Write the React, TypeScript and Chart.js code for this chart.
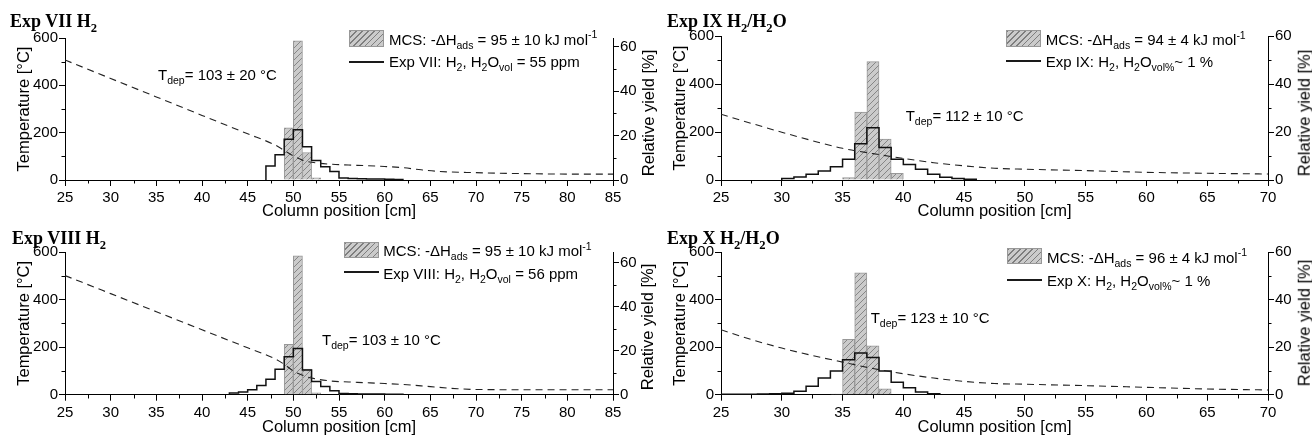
import React, { useEffect, useRef } from "react";
import { Chart, registerables } from "chart.js";

Chart.register(...registerables);

const SANS = "'Liberation Sans', Arial, Helvetica, sans-serif";
const SERIF = "'Liberation Serif', 'Times New Roman', serif";

// ===== Exp VII H2 (top left) =====
const mcsVIIEdges = [49, 50, 51, 52];
const mcsVIIYield = [23.5, 62.7, 12.4, 1.0];
const expVIIStart = 47;
const expVIIYield = [6.3, 11.4, 18.4, 22.6, 15.0, 8.8, 6.0, 3.8, 0.9, 0.7, 0.6, 0.5, 0.4, 0.3, 0.2];
const tempVIIPos = [25, 30, 35, 40, 45, 48, 49, 50, 51, 52, 54, 57, 60, 62, 64, 66, 70, 75, 80, 85];
const tempVII = [507, 429, 351, 273, 195, 148, 125, 102, 84, 75, 67, 62, 57, 52, 43, 36, 31, 27, 25, 25];

// ===== Exp IX H2/H2O (top right) =====
const mcsIXEdges = [35, 36, 37, 38, 39];
const mcsIXYield = [1.0, 28.3, 49.3, 17.1, 2.8];
const expIXStart = 30;
const expIXYield = [0.6, 1.2, 2.4, 3.8, 5.5, 8.6, 15.1, 21.8, 13.5, 8.6, 6.5, 4.5, 2.4, 1.1, 0.6, 0.3];
const tempIXPos = [25, 27.5, 30, 32.5, 35, 37.5, 40, 42.5, 45, 47.5, 50, 55, 60, 65, 70];
const tempIX = [274, 236, 199, 164, 132, 110, 90, 72, 59, 49, 45, 39, 32, 28, 25];

// ===== Exp VIII H2 (bottom left) =====
const mcsVIIIEdges = [49, 50, 51, 52];
const mcsVIIIYield = [23.0, 63.2, 11.7, 0.8];
const expVIIIStart = 43;
const expVIIIYield = [0.8, 1.2, 2.3, 4.2, 7.0, 11.6, 17.3, 21.0, 11.3, 6.0, 3.7, 1.8, 0.6, 0.4, 0.3, 0.3, 0.3, 0.2, 0.2];
const tempVIIIPos = [25, 30, 35, 40, 45, 48, 49, 50, 51, 52, 54, 57, 60, 62, 65, 68, 70, 75, 80, 85];
const tempVIII = [501, 425, 349, 273, 197, 151, 128, 100, 82, 70, 58, 52, 47, 43, 34, 25, 22, 21, 21, 21];

// ===== Exp X H2/H2O (bottom right) =====
const mcsXEdges = [34, 35, 36, 37, 38];
const mcsXYield = [0.3, 23.3, 51.2, 20.6, 2.5];
const expXStart = 25;
const expXYield = [0.2, 0.2, 0.2, 0.3, 0.4, 0.6, 1.5, 3.6, 7.0, 10.0, 14.7, 17.5, 15.6, 10.0, 5.2, 2.9, 1.1, 0.4];
const tempXPos = [25, 27.5, 30, 32.5, 35, 37.5, 40, 42.5, 45, 47.5, 50, 55, 60, 65, 70];
const tempX = [273, 232, 196, 165, 137, 110, 88, 70, 56, 47, 44, 38, 31, 24, 20];

// axis ticks
const xTickStep = 5;
const xMinorStep = 2.5;
const tempTickStep = 200;
const tempMinorStep = 100;
const yieldTickStep = 20;
const yieldMinorStep = 10;

const HATCH_BG = "#cbcbcb";
const HATCH_FG = "#7e7e7e";

function makeHatch(): CanvasPattern {
  const c = document.createElement("canvas");
  c.width = 6;
  c.height = 6;
  const g = c.getContext("2d")!;
  g.fillStyle = HATCH_BG;
  g.fillRect(0, 0, 6, 6);
  g.strokeStyle = HATCH_FG;
  g.lineWidth = 0.9;
  g.beginPath();
  g.moveTo(0, 6);
  g.lineTo(6, 0);
  g.moveTo(-3, 3);
  g.lineTo(3, -3);
  g.moveTo(3, 9);
  g.lineTo(9, 3);
  g.stroke();
  return g.createPattern(c, "repeat")!;
}

const minorTicksPlugin = {
  id: "minorTicks",
  afterDraw(chart: any, _args: any, opts: any) {
    const specs = (opts && opts.specs) || [];
    const ctx = chart.ctx;
    const ca = chart.chartArea;
    ctx.save();
    ctx.strokeStyle = "#000";
    ctx.lineWidth = 1;
    ctx.beginPath();
    for (const s of specs) {
      const sc = chart.scales[s.id];
      if (!sc) continue;
      for (let v = sc.min; v <= sc.max + 1e-9; v += s.step) {
        const r = v / s.major;
        if (Math.abs(r - Math.round(r)) < 1e-6) continue;
        const p = Math.round(sc.getPixelForValue(v)) + 0.5;
        if (s.id === "x") {
          const y = Math.round(ca.bottom);
          ctx.moveTo(p, y);
          ctx.lineTo(p, y + 3.5);
        } else if (s.id === "y") {
          const x = Math.round(ca.left);
          ctx.moveTo(x, p);
          ctx.lineTo(x - 3.5, p);
        } else {
          const x = Math.round(ca.right);
          ctx.moveTo(x, p);
          ctx.lineTo(x + 3.5, p);
        }
      }
    }
    ctx.stroke();
    ctx.restore();
  },
};

type Lbl = React.ReactNode;

interface PanelCfg {
  left: number;
  top: number;
  width: number;
  height: number;
  plotLeft: number;
  plotRight: number;
  plotTop: number;
  plotBottom: number;
  xMax: number;
  y2Max: number;
  mcsEdges: number[];
  mcsYield: number[];
  expStart: number;
  expYield: number[];
  tempPos: number[];
  temp: number[];
  title: Lbl;
  titlePos: [number, number];
  swatch: [number, number, number, number];
  leg1: Lbl;
  leg1Pos: [number, number];
  lineY: number;
  leg2: Lbl;
  leg2Pos: [number, number];
  tdep: Lbl;
  tdepPos: [number, number];
  rightTitle: [number, number];
}

const Sub = ({ children }: { children: React.ReactNode }) => (
  <span style={{ fontSize: "0.7em", position: "relative", top: "0.38em" }}>{children}</span>
);
const Sup = ({ children }: { children: React.ReactNode }) => (
  <span style={{ fontSize: "0.7em", position: "relative", top: "-0.62em" }}>{children}</span>
);

function Txt({ x, base, size = 15, bold = false, serif = false, children }: any) {
  const k = serif ? 0.8375 : 0.8465;
  return (
    <div
      style={{
        position: "absolute",
        left: x,
        top: base - k * size,
        fontSize: size,
        lineHeight: `${size}px`,
        fontFamily: serif ? SERIF : SANS,
        fontWeight: bold ? "bold" : "normal",
        whiteSpace: "nowrap",
        color: "#000",
      }}
    >
      {children}
    </div>
  );
}

function Panel({ cfg }: { cfg: PanelCfg }) {
  const ref = useRef<HTMLCanvasElement>(null);
  useEffect(() => {
    const hatch = makeHatch();
    const bars = cfg.mcsEdges.map((e, i) => ({ x: e + 0.5, y: cfg.mcsYield[i] }));
    const n = cfg.expYield.length;
    const steps = [
      { x: cfg.expStart, y: 0 },
      ...cfg.expYield.map((v, i) => ({ x: cfg.expStart + i, y: v })),
      { x: cfg.expStart + n, y: 0 },
    ];
    const temps = cfg.tempPos.map((p, i) => ({ x: p, y: cfg.temp[i] }));
    const axisTitleFont = { family: SANS, size: 16.5, lineHeight: 1.2 };
    const tickFont = { family: SANS, size: 15, lineHeight: 1.2 };
    const chart = new Chart(ref.current!, {
      type: "line",
      data: {
        datasets: [
          {
            type: "bar",
            label: "MCS",
            data: bars,
            xAxisID: "x",
            yAxisID: "y2",
            backgroundColor: hatch,
            borderColor: "#989898",
            borderWidth: 1,
            barPercentage: 1,
            categoryPercentage: 1,
            order: 3,
          } as any,
          {
            type: "line",
            label: "Exp",
            data: steps,
            xAxisID: "x",
            yAxisID: "y2",
            stepped: true,
            borderColor: "#111",
            borderWidth: 1.5,
            pointRadius: 0,
            fill: false,
            order: 2,
          } as any,
          {
            type: "line",
            label: "Temperature",
            data: temps,
            xAxisID: "x",
            yAxisID: "y",
            borderColor: "#222",
            borderWidth: 1.1,
            borderDash: [7, 5],
            pointRadius: 0,
            cubicInterpolationMode: "monotone",
            fill: false,
            order: 1,
          } as any,
        ],
      },
      options: {
        responsive: false,
        maintainAspectRatio: false,
        animation: false,
        devicePixelRatio: 1,
        layout: { padding: { top: cfg.plotTop, left: 0, right: 0, bottom: 0 } },
        plugins: {
          legend: { display: false },
          tooltip: { enabled: false },
          minorTicks: {
            specs: [
              { id: "x", step: xMinorStep, major: xTickStep },
              { id: "y", step: tempMinorStep, major: tempTickStep },
              { id: "y2", step: yieldMinorStep, major: yieldTickStep },
            ],
          },
        } as any,
        scales: {
          x: {
            type: "linear",
            position: "bottom",
            min: 25,
            max: cfg.xMax,
            offset: false,
            ticks: {
              stepSize: xTickStep,
              autoSkip: false,
              maxRotation: 0,
              padding: 3,
              color: "#000",
              font: tickFont,
              includeBounds: false,
            },
            grid: { drawOnChartArea: false, drawTicks: true, tickLength: 6, color: "#000", offset: false },
            border: { display: true, color: "#000", width: 1 },
            title: {
              display: true,
              text: "Column position [cm]",
              color: "#000",
              font: axisTitleFont,
              padding: { top: 0, bottom: 0.7 },
            },
            afterFit: (s: any) => {
              s.height = cfg.height - cfg.plotBottom;
            },
          },
          y: {
            type: "linear",
            position: "left",
            min: 0,
            max: 600,
            ticks: { stepSize: tempTickStep, padding: 1, color: "#000", font: tickFont, includeBounds: false },
            grid: { drawOnChartArea: false, drawTicks: true, tickLength: 6, color: "#000" },
            border: { display: true, color: "#000", width: 1 },
            title: {
              display: true,
              text: "Temperature [°C]",
              color: "#000",
              font: axisTitleFont,
              padding: { top: 15, bottom: 0 },
            },
            afterFit: (s: any) => {
              s.width = cfg.plotLeft;
            },
          },
          y2: {
            type: "linear",
            position: "right",
            min: 0,
            max: cfg.y2Max,
            ticks: { stepSize: yieldTickStep, padding: 1, color: "#000", font: tickFont, includeBounds: false },
            grid: { drawOnChartArea: false, drawTicks: true, tickLength: 6, color: "#000" },
            border: { display: true, color: "#000", width: 1 },
            title: { display: false },
            afterFit: (s: any) => {
              s.width = cfg.width - cfg.plotRight;
            },
          },
        } as any,
      },
      plugins: [minorTicksPlugin as any],
    });
    return () => chart.destroy();
  }, []);

  const [sx, sy, sw, sh] = cfg.swatch;
  return (
    <div
      style={{
        position: "absolute",
        left: cfg.left,
        top: cfg.top,
        width: cfg.width,
        height: cfg.height,
      }}
    >
      <canvas
        ref={ref}
        width={cfg.width}
        height={cfg.height}
        style={{ position: "absolute", left: 0, top: 0, width: cfg.width, height: cfg.height }}
      />
      <Txt x={cfg.titlePos[0]} base={cfg.titlePos[1]} size={18} bold serif>
        {cfg.title}
      </Txt>
      <div
        style={{
          position: "absolute",
          left: sx,
          top: sy,
          width: sw,
          height: sh,
          boxSizing: "border-box",
          border: "1px solid #989898",
          background: `repeating-linear-gradient(135deg, ${HATCH_FG} 0px, ${HATCH_FG} 0.9px, ${HATCH_BG} 0.9px, ${HATCH_BG} 4.2px)`,
        }}
      />
      <Txt x={cfg.leg1Pos[0]} base={cfg.leg1Pos[1]}>
        {cfg.leg1}
      </Txt>
      <div
        style={{
          position: "absolute",
          left: sx,
          top: Math.round(cfg.lineY) - 1,
          width: sw,
          height: 1.6,
          background: "#1a1a1a",
        }}
      />
      <Txt x={cfg.leg2Pos[0]} base={cfg.leg2Pos[1]}>
        {cfg.leg2}
      </Txt>
      <Txt x={cfg.tdepPos[0]} base={cfg.tdepPos[1]}>
        {cfg.tdep}
      </Txt>
      <div
        style={{
          position: "absolute",
          left: cfg.rightTitle[0],
          top: cfg.rightTitle[1],
          transform: "translate(-50%, -50%) rotate(-90deg)",
          fontFamily: SANS,
          fontSize: 16.5,
          lineHeight: "16.5px",
          whiteSpace: "nowrap",
          color: "#000",
        }}
      >
        Relative yield [%]
      </div>
    </div>
  );
}

const mcsLabel = (v: string) => (
  <>
    MCS: -ΔH<Sub>ads</Sub> = {v} kJ mol<Sup>-1</Sup>
  </>
);

const panels: PanelCfg[] = [
  {
    left: 0,
    top: 0,
    width: 656,
    height: 222,
    plotLeft: 65,
    plotRight: 613,
    plotTop: 38,
    plotBottom: 180,
    xMax: 85,
    y2Max: 64,
    mcsEdges: mcsVIIEdges,
    mcsYield: mcsVIIYield,
    expStart: expVIIStart,
    expYield: expVIIYield,
    tempPos: tempVIIPos,
    temp: tempVII,
    title: (
      <>
        Exp VII H<Sub>2</Sub>
      </>
    ),
    titlePos: [10, 27],
    swatch: [349, 30, 35, 17],
    leg1: mcsLabel("95 ± 10"),
    leg1Pos: [389, 44.5],
    lineY: 61.7,
    leg2: (
      <>
        Exp VII: H<Sub>2</Sub>, H<Sub>2</Sub>O<Sub>vol</Sub> = 55 ppm
      </>
    ),
    leg2Pos: [389, 66.7],
    tdep: (
      <>
        T<Sub>dep</Sub>= 103 ± 20 °C
      </>
    ),
    tdepPos: [158, 80],
    rightTitle: [647.5, 113],
  },
  {
    left: 656,
    top: 0,
    width: 656,
    height: 222,
    plotLeft: 65,
    plotRight: 612,
    plotTop: 36,
    plotBottom: 180,
    xMax: 70,
    y2Max: 60,
    mcsEdges: mcsIXEdges,
    mcsYield: mcsIXYield,
    expStart: expIXStart,
    expYield: expIXYield,
    tempPos: tempIXPos,
    temp: tempIX,
    title: (
      <>
        Exp IX H<Sub>2</Sub>/H<Sub>2</Sub>O
      </>
    ),
    titlePos: [11, 27],
    swatch: [350, 30, 35, 17],
    leg1: mcsLabel("94 ± 4"),
    leg1Pos: [389.7, 45],
    lineY: 61,
    leg2: (
      <>
        Exp IX: H<Sub>2</Sub>, H<Sub>2</Sub>O<Sub>vol%</Sub>~ 1 %
      </>
    ),
    leg2Pos: [389.7, 66.7],
    tdep: (
      <>
        T<Sub>dep</Sub>= 112 ± 10 °C
      </>
    ),
    tdepPos: [249.7, 120.5],
    rightTitle: [648, 113],
  },
  {
    left: 0,
    top: 219,
    width: 656,
    height: 219,
    plotLeft: 65,
    plotRight: 613,
    plotTop: 33,
    plotBottom: 175.7,
    xMax: 85,
    y2Max: 65,
    mcsEdges: mcsVIIIEdges,
    mcsYield: mcsVIIIYield,
    expStart: expVIIIStart,
    expYield: expVIIIYield,
    tempPos: tempVIIIPos,
    temp: tempVIII,
    title: (
      <>
        Exp VIII H<Sub>2</Sub>
      </>
    ),
    titlePos: [12, 25],
    swatch: [344, 22.7, 35, 16.6],
    leg1: mcsLabel("95 ± 10"),
    leg1Pos: [383.3, 36.7],
    lineY: 53.3,
    leg2: (
      <>
        Exp VIII: H<Sub>2</Sub>, H<Sub>2</Sub>O<Sub>vol</Sub> = 56 ppm
      </>
    ),
    leg2Pos: [383.3, 59.3],
    tdep: (
      <>
        T<Sub>dep</Sub>= 103 ± 10 °C
      </>
    ),
    tdepPos: [322, 126],
    rightTitle: [647, 108],
  },
  {
    left: 656,
    top: 219,
    width: 656,
    height: 219,
    plotLeft: 65,
    plotRight: 612,
    plotTop: 33,
    plotBottom: 175.7,
    xMax: 70,
    y2Max: 60,
    mcsEdges: mcsXEdges,
    mcsYield: mcsXYield,
    expStart: expXStart,
    expYield: expXYield,
    tempPos: tempXPos,
    temp: tempX,
    title: (
      <>
        Exp X H<Sub>2</Sub>/H<Sub>2</Sub>O
      </>
    ),
    titlePos: [11, 25],
    swatch: [351, 29.3, 35, 16],
    leg1: mcsLabel("96 ± 4"),
    leg1Pos: [391, 43.3],
    lineY: 61,
    leg2: (
      <>
        Exp X: H<Sub>2</Sub>, H<Sub>2</Sub>O<Sub>vol%</Sub>~ 1 %
      </>
    ),
    leg2Pos: [391, 66.7],
    tdep: (
      <>
        T<Sub>dep</Sub>= 123 ± 10 °C
      </>
    ),
    tdepPos: [214.7, 104],
    rightTitle: [648, 104],
  },
];

export default function App() {
  return (
    <div
      style={{
        position: "fixed",
        left: 0,
        top: 0,
        width: 1312,
        height: 438,
        overflow: "hidden",
        background: "#fff",
      }}
    >
      {panels.map((p, i) => (
        <Panel key={i} cfg={p} />
      ))}
    </div>
  );
}
